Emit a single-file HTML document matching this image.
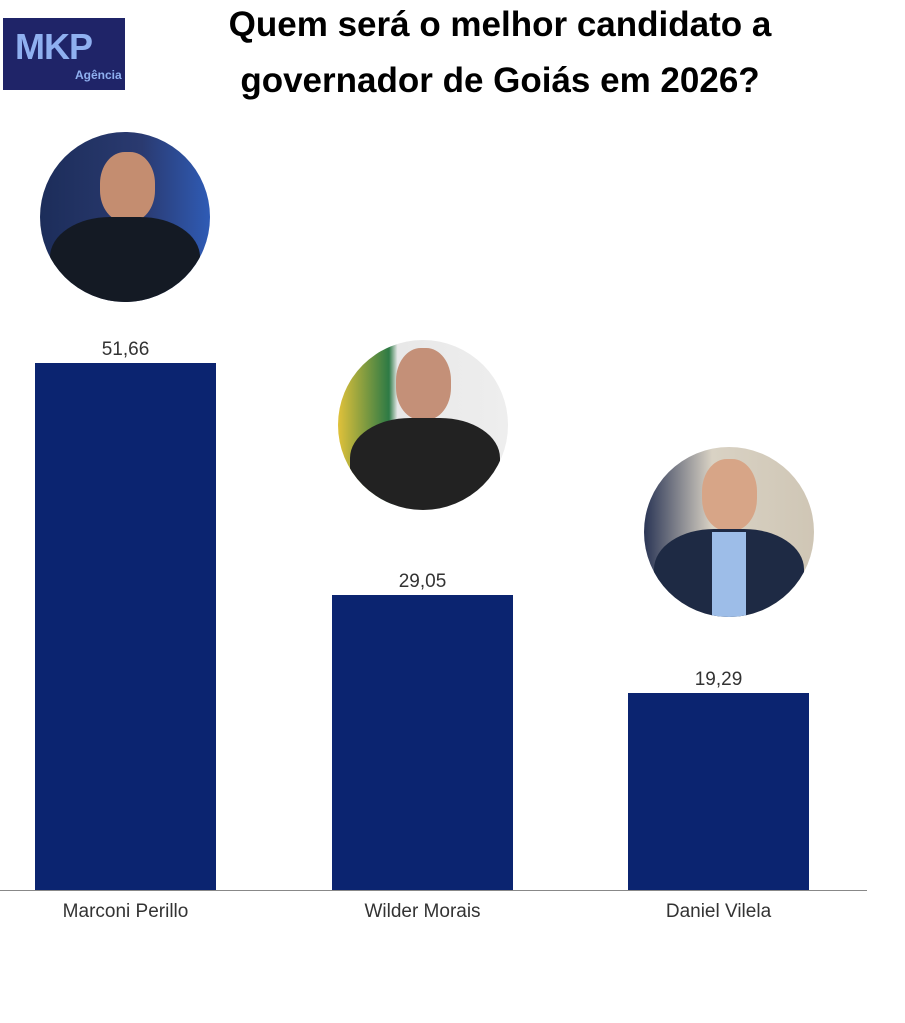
<!DOCTYPE html>
<html><head><meta charset="utf-8"><style>
body{margin:0;width:905px;height:1023px;background:#fff;position:relative;overflow:hidden;font-family:"Liberation Sans",sans-serif}
.t{position:absolute;left:130px;width:740px;text-align:center;font-weight:bold;font-size:35px;color:#000;line-height:56px}
.bar{position:absolute;background:#0b2470}
.v{position:absolute;width:181px;text-align:center;font-size:19px;color:#333}
.l{position:absolute;width:181px;text-align:center;font-size:19px;color:#333;top:901px}
.c{position:absolute;width:170px;height:170px;border-radius:50%;overflow:hidden}
</style></head><body>
<div style="position:absolute;left:3px;top:18px;width:122px;height:72px;background:#1f2468">
<div style="position:absolute;left:12px;top:8px;font-size:36px;font-weight:bold;color:#8fb0f0;letter-spacing:-1px">MKP</div>
<div style="position:absolute;left:72px;top:50px;font-size:12px;font-weight:bold;color:#8fb0f0">Agência</div></div>
<div class="t" style="top:-3px">Quem será o melhor candidato a<br>governador de Goiás em 2026?</div>

<div class="c" style="left:40px;top:132px;background:linear-gradient(90deg,#1c2d5a,#2a3a70 60%,#2f5bb5)">
<div style="position:absolute;left:60px;top:20px;width:55px;height:70px;border-radius:45%;background:#c48d70"></div>
<div style="position:absolute;left:10px;top:85px;width:150px;height:100px;border-radius:40% 40% 0 0;background:#141a24"></div></div>
<div class="c" style="left:338px;top:340px;background:linear-gradient(90deg,#e0c13a,#2d7a45 30%,#e8e8e8 35%,#eee)">
<div style="position:absolute;left:58px;top:8px;width:55px;height:72px;border-radius:45%;background:#c49078"></div>
<div style="position:absolute;left:12px;top:78px;width:150px;height:100px;border-radius:40% 40% 0 0;background:#222"></div></div>
<div class="c" style="left:644px;top:447px;background:linear-gradient(90deg,#2a3555,#d9d2c4 40%,#cfc6b5)">
<div style="position:absolute;left:58px;top:12px;width:55px;height:72px;border-radius:45%;background:#d7a587"></div>
<div style="position:absolute;left:10px;top:82px;width:150px;height:100px;border-radius:40% 40% 0 0;background:#1e2a44"></div>
<div style="position:absolute;left:68px;top:85px;width:34px;height:90px;background:#9dbde8"></div></div>

<div class="bar" style="left:35px;top:363px;width:181px;height:528px"></div>
<div class="bar" style="left:332px;top:595px;width:181px;height:296px"></div>
<div class="bar" style="left:628px;top:693px;width:181px;height:198px"></div>
<div class="v" style="left:35px;top:339px">51,66</div>
<div class="v" style="left:332px;top:571px">29,05</div>
<div class="v" style="left:628px;top:669px">19,29</div>
<div style="position:absolute;left:0;top:890px;width:867px;height:1px;background:#888"></div>
<div class="l" style="left:35px">Marconi Perillo</div>
<div class="l" style="left:332px">Wilder Morais</div>
<div class="l" style="left:628px">Daniel Vilela</div>
</body></html>
